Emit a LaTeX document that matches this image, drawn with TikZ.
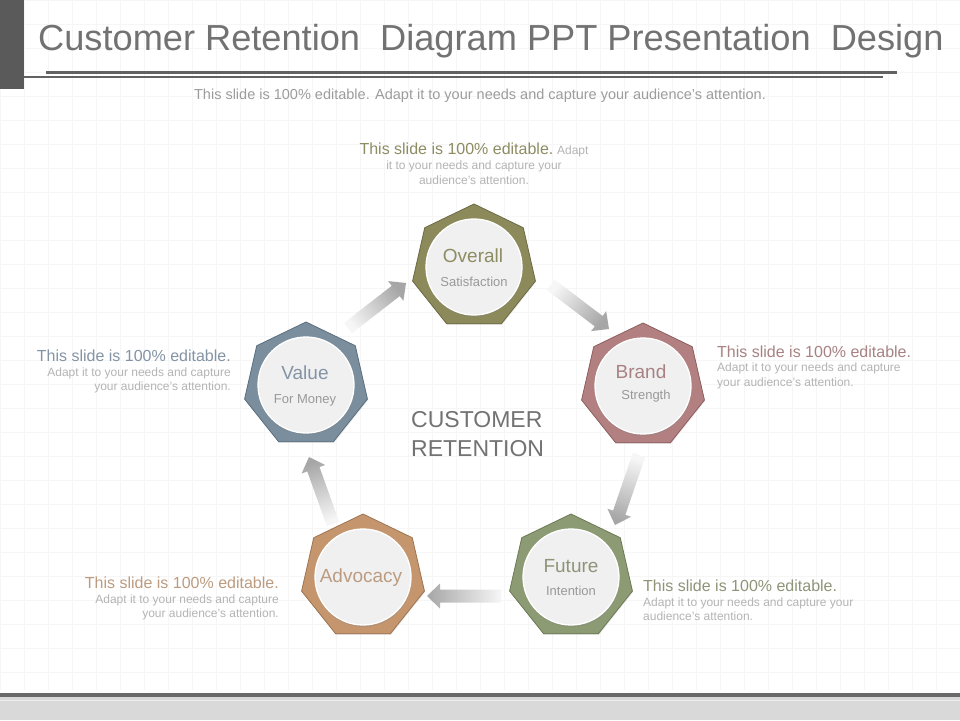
\documentclass[tikz,border=0pt]{standalone}
\usepackage{fontspec}
\setmainfont{Liberation Sans}
\usetikzlibrary{shapes.geometric,calc,shadows}
\definecolor{titlegray}{HTML}{727272}
\definecolor{subgray}{HTML}{9C9C9C}
\definecolor{smallgray}{HTML}{B4B4B4}
\definecolor{bargray}{HTML}{5A5A5A}
\definecolor{linegray}{HTML}{626262}
\definecolor{gridc}{HTML}{F6F6F6}
\definecolor{discfill}{HTML}{F0F0F1}
\definecolor{olF}{HTML}{8C8A5A}\definecolor{olD}{HTML}{6C6A44}\definecolor{olT}{HTML}{8E8C62}
\definecolor{roF}{HTML}{B28080}\definecolor{roD}{HTML}{8E5E5E}\definecolor{roT}{HTML}{A88282}
\definecolor{grF}{HTML}{8C9B73}\definecolor{grD}{HTML}{6C7A54}\definecolor{grT}{HTML}{8E9478}
\definecolor{taF}{HTML}{C5966E}\definecolor{taD}{HTML}{9E7450}\definecolor{taT}{HTML}{BC9C80}
\definecolor{slF}{HTML}{7A8E9E}\definecolor{slD}{HTML}{5A6E7E}\definecolor{slT}{HTML}{8494A4}
\definecolor{arrdark}{HTML}{A6A6A6}
\definecolor{arrlight}{HTML}{F6F6F6}
\definecolor{botband}{HTML}{D9D9D9}
\definecolor{botline}{HTML}{6A6A6A}
\tikzset{
  hept/.style={regular polygon, regular polygon sides=7, minimum size=126pt, inner sep=0pt, line width=0.8pt,
    drop shadow={opacity=0.18, shadow xshift=0.6pt, shadow yshift=-1.2pt}},
  disc/.style={circle, minimum size=96pt, inner sep=0pt, fill=discfill, draw=white, line width=1.3pt,
    drop shadow={opacity=0.28, shadow xshift=0.4pt, shadow yshift=-2pt}},
  lab/.style={inner sep=0pt, anchor=base, font=\fontsize{19}{22}\selectfont},
  sublab/.style={inner sep=0pt, anchor=base, font=\fontsize{13}{15}\selectfont, text=smallgray!85!black},
  bigt/.style={inner sep=0pt, font=\fontsize{16}{18}\selectfont},
  smallt/.style={inner sep=0pt, font=\fontsize{12}{14}\selectfont, text=smallgray},
}
\begin{document}
\begin{tikzpicture}[x=1pt,y=-1pt]
\useasboundingbox (0,0) rectangle (960,720);
\fill[white] (0,0) rectangle (960,720);
\draw[gridc, line width=0.4pt, step=24pt] (0,0) grid (960,690);
% header
\fill[bargray] (0,0) rectangle (24,89);
\draw[linegray, line width=2.2pt] (46,72.5) -- (897,72.5);
\draw[linegray, line width=2.2pt] (24,77) -- (883,77);
\node[inner sep=0pt, anchor=base west, text=titlegray, font=\fontsize{36.2}{40}\selectfont] (title) at (38,50) {Customer Retention\ \ Diagram PPT Presentation\ \ Design};
\node[inner sep=0pt, anchor=base, text=subgray, font=\fontsize{14.5}{16}\selectfont] (sub) at (480,99) {This slide is 100\% editable. Adapt it to your needs and capture your audience's attention.};
% footer
\fill[botline] (0,692.5) rectangle (960,697);
\fill[botband] (0,697) rectangle (960,720);
\draw[white!93!black, line width=0.6pt] (0,700) -- (960,700);
% heptagons
\node[hept, fill=olF, draw=olD] (ov) at (474,267) {};
\node[hept, fill=roF, draw=roD] (br) at (643,386) {};
\node[hept, fill=grF, draw=grD] (fu) at (571,577) {};
\node[hept, fill=taF, draw=taD] (ad) at (363,577) {};
\node[hept, fill=slF, draw=slD] (va) at (306,385) {};
\node[disc] (ovc) at (ov.center) {};
\node[disc] (brc) at (br.center) {};
\node[disc] (fuc) at (fu.center) {};
\node[disc] (adc) at (ad.center) {};
\node[disc] (vac) at (va.center) {};
% labels
\node[lab, text=olT] (ovl) at (473,262) {Overall};
\node[sublab] (ovs) at (474,286.5) {Satisfaction};
\node[lab, text=roT] (brl) at (641,378) {Brand};
\node[sublab] (brs) at (646,399.5) {Strength};
\node[lab, text=slT] (val) at (305,379) {Value};
\node[sublab] (vas) at (305,403.5) {For Money};
\node[lab, text=taT] (adl) at (361,582) {Advocacy};
\node[lab, text=grT] (ful) at (571,572) {Future};
\node[sublab] (fus) at (571,595.5) {Intention};
% centre text
\node[inner sep=0pt, anchor=base west, text=titlegray, font=\fontsize{23}{26}\selectfont] (cu1) at (411,427) {CUSTOMER};
\node[inner sep=0pt, anchor=base west, text=titlegray, font=\fontsize{23}{26}\selectfont] (cu2) at (411,456) {RETENTION};
% arrows
\coordinate (a1s) at (348,328); \coordinate (a1e) at (406,283);
\coordinate (a2s) at (551,285); \coordinate (a2e) at (609,329);
\coordinate (a3s) at (639,455); \coordinate (a3e) at (615,525);
\coordinate (a4s) at (501,596); \coordinate (a4e) at (427,596);
\coordinate (a5s) at (333,524); \coordinate (a5e) at (309,457);
\foreach \s/\e/\ang in {a1s/a1e/-52.3, a2s/a2e/-128.3, a3s/a3e/162.3, a4s/a4e/90, a5s/a5e/18.7}{
  \coordinate (nk) at ($(\e)!13pt!(\s)$);
  \shade[top color=arrdark, bottom color=arrlight, shading angle=\ang]
    ($(\s)!6.5pt!90:(\e)$) -- ($(nk)!6.5pt!90:(\e)$) -- ($(nk)!12.5pt!90:(\e)$) -- (\e)
    -- ($(nk)!12.5pt!-90:(\e)$) -- ($(nk)!6.5pt!-90:(\e)$) -- ($(\s)!6.5pt!-90:(\e)$) -- cycle;
}
% text blocks
\node[inner sep=0pt, anchor=base] (t1a) at (474,154.5) {{\fontsize{16}{18}\selectfont\color{olT}This slide is 100\% editable.} {\fontsize{12}{14}\selectfont\color{smallgray}Adapt}};
\node[smallt, anchor=base] (t1b) at (474,169) {it to your needs and capture your};
\node[smallt, anchor=base] (t1c) at (474,184) {audience's attention.};
\node[bigt, anchor=base west, text=roT] (t2a) at (717,357) {This slide is 100\% editable.};
\node[smallt, anchor=base west] (t2b) at (717,371.5) {Adapt it to your needs and capture};
\node[smallt, anchor=base west] (t2c) at (717,386) {your audience's attention.};
\node[bigt, anchor=base east, text=slT] (t3a) at (231,361) {This slide is 100\% editable.};
\node[smallt, anchor=base east] (t3b) at (231,376) {Adapt it to your needs and capture};
\node[smallt, anchor=base east] (t3c) at (231,390.5) {your audience's attention.};
\node[bigt, anchor=base east, text=taT] (t4a) at (279,588) {This slide is 100\% editable.};
\node[smallt, anchor=base east] (t4b) at (279,603) {Adapt it to your needs and capture};
\node[smallt, anchor=base east] (t4c) at (279,617.5) {your audience's attention.};
\node[bigt, anchor=base west, text=grT] (t5a) at (643,591) {This slide is 100\% editable.};
\node[smallt, anchor=base west] (t5b) at (643,606) {Adapt it to your needs and capture your};
\node[smallt, anchor=base west] (t5c) at (643,620.5) {audience's attention.};
\end{tikzpicture}
\end{document}
